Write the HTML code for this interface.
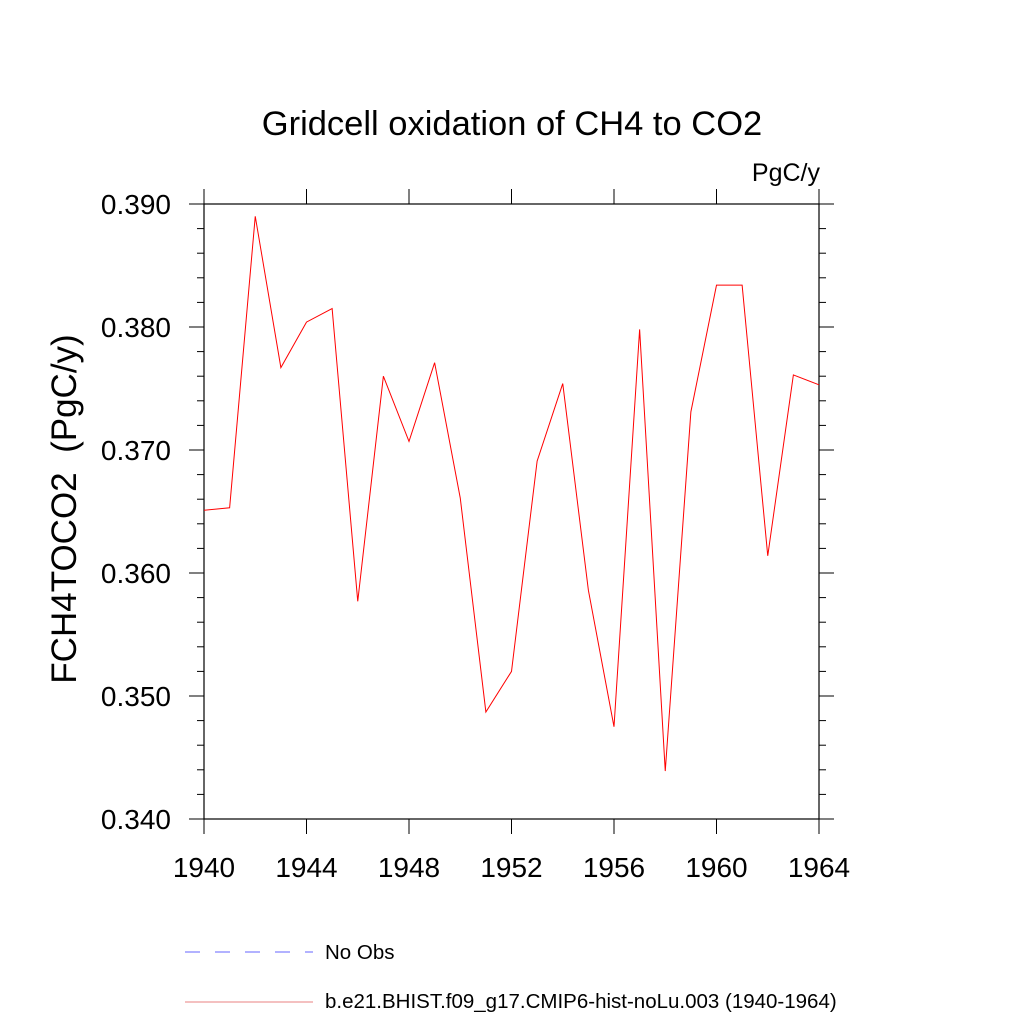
<!DOCTYPE html>
<html><head><meta charset="utf-8"><style>
body{margin:0;background:#fff}
svg text{font-family:"Liberation Sans",sans-serif;fill:#000}
</style></head><body>
<svg id="chart" width="1024" height="1024" xmlns="http://www.w3.org/2000/svg">
<text x="512" y="135" font-size="34.5" text-anchor="middle">Gridcell oxidation of CH4 to CO2</text>
<text x="820" y="181" font-size="25" text-anchor="end">PgC/y</text>
<text transform="translate(76,509) rotate(-90)" font-size="35" text-anchor="middle" xml:space="preserve">FCH4TOCO2  (PgC/y)</text>
<g id="axes"></g>
<g id="series"></g>
<g>
<line x1="185" y1="952" x2="313" y2="952" stroke="#6666ff" stroke-width="1" stroke-dasharray="15,15"/>
<text x="325" y="959" font-size="20.5">No Obs</text>
<line x1="185" y1="1002" x2="313" y2="1002" stroke="#e88080" stroke-width="1"/>
<text x="325" y="1008" font-size="20.5">b.e21.BHIST.f09_g17.CMIP6-hist-noLu.003 (1940-1964)</text>
</g>
</svg>
<script>
const years=[1940,1941,1942,1943,1944,1945,1946,1947,1948,1949,1950,1951,1952,1953,1954,1955,1956,1957,1958,1959,1960,1961,1962,1963,1964];
const values=[0.3651,0.3653,0.3890,0.3767,0.3804,0.3815,0.3577,0.3760,0.3707,0.3771,0.3661,0.3487,0.3520,0.3691,0.3754,0.3586,0.3475,0.3798,0.3439,0.3731,0.3834,0.3834,0.3614,0.3761,0.3753];
const xTicks=[1940,1944,1948,1952,1956,1960,1964];
const yTicks=[0.340,0.350,0.360,0.370,0.380,0.390];
const yTickLabels=["0.340","0.350","0.360","0.370","0.380","0.390"];
const L=204,R=819,T=204,B=819,x0=1940,x1=1964,y0=0.340,y1=0.390;
const sx=v=>L+(v-x0)/(x1-x0)*(R-L);
const sy=v=>B-(v-y0)/(y1-y0)*(B-T);
const NS="http://www.w3.org/2000/svg";
const axes=document.getElementById('axes');
function ln(x1,y1,x2,y2,name){const e=document.createElementNS(NS,'line');
e.setAttribute('x1',x1);e.setAttribute('y1',y1);e.setAttribute('x2',x2);e.setAttribute('y2',y2);
e.setAttribute('stroke','#000');e.setAttribute('stroke-width','1');


axes.appendChild(e);}
const box=document.createElementNS(NS,'rect');
box.setAttribute('x',L);box.setAttribute('y',T);box.setAttribute('width',R-L);box.setAttribute('height',B-T);
box.setAttribute('fill','none');box.setAttribute('stroke','#000');box.setAttribute('stroke-width','1.2');


axes.appendChild(box);
xTicks.forEach(t=>{const x=sx(t);ln(x,B,x,B+15,'x-tick');ln(x,T,x,T-15,'x-tick-top');
const tx=document.createElementNS(NS,'text');tx.setAttribute('x',x);tx.setAttribute('y',877);
tx.setAttribute('font-size','28');tx.setAttribute('text-anchor','middle');tx.textContent=t;


axes.appendChild(tx);});
for(let v=y0;v<=y1+1e-9;v+=0.002){const y=sy(v);const major=Math.abs(Math.round(v*100)-v*100)<1e-6;
const len=major?15:7;ln(L,y,L-len,y,'y-tick');ln(R,y,R+len,y,'y-tick-right');}
yTicks.forEach((t,i)=>{const tx=document.createElementNS(NS,'text');tx.setAttribute('x',171);tx.setAttribute('y',sy(t)+10);
tx.setAttribute('font-size','28');tx.setAttribute('text-anchor','end');tx.textContent=yTickLabels[i];


axes.appendChild(tx);});
const pl=document.createElementNS(NS,'polyline');
pl.setAttribute('points',years.map((y,i)=>sx(y)+','+sy(values[i])).join(' '));
pl.setAttribute('fill','none');pl.setAttribute('stroke','#ff0000');pl.setAttribute('stroke-width','1');


document.getElementById('series').appendChild(pl);
</script>
</body></html>
